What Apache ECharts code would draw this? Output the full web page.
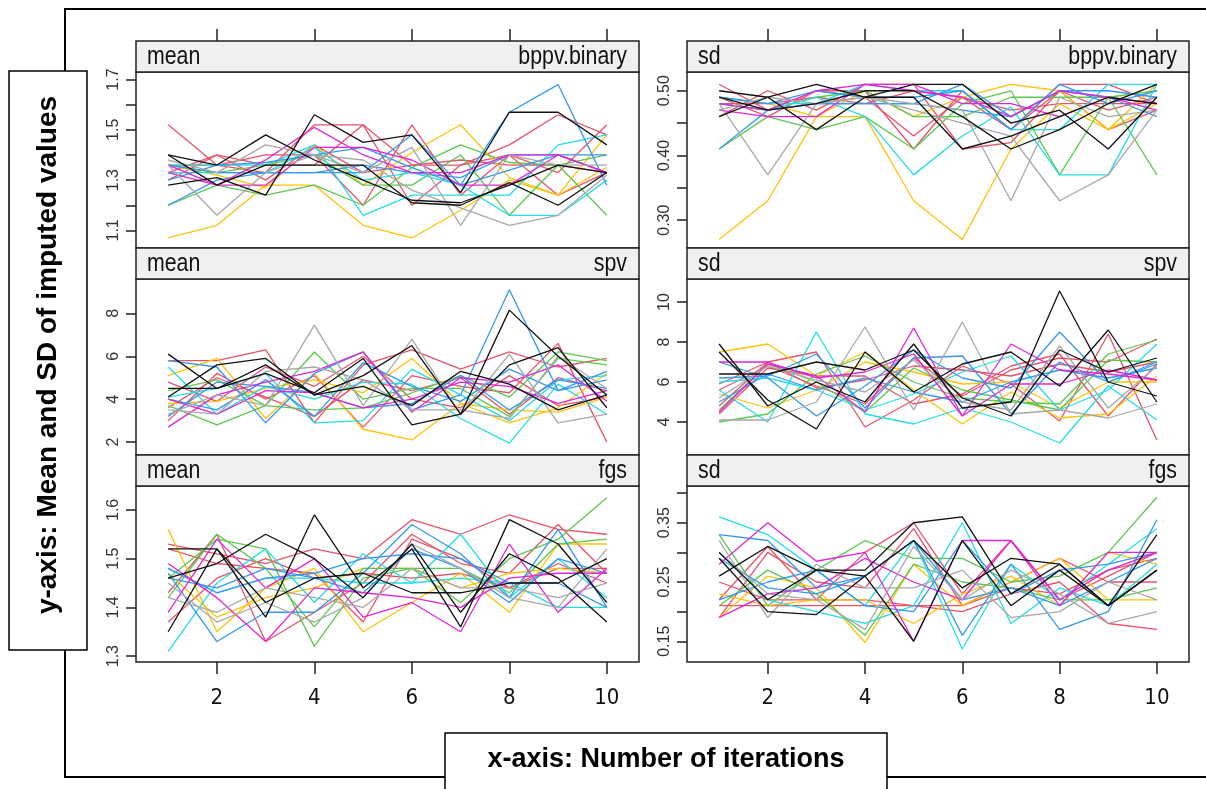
<!DOCTYPE html>
<html>
<head>
<meta charset="utf-8">
<script src="https://cdn.jsdelivr.net/npm/echarts@6/dist/echarts.min.js"></script>
<style>
  html, body { margin: 0; padding: 0; background: #fff; }
  #chart { width: 1206px; height: 789px; }
</style>
</head>
<body>
<div id="chart"></div>
<script>
// iterations on the x axis
const iterations = [1, 2, 3, 4, 5, 6, 7, 8, 9, 10];
const xTicks = [2, 4, 6, 8, 10];

// one colour per imputation stream (red x4, gold x2, green x2, cyan x2, blue x3, magenta x2, gray x2, black x3)
const lineColors = [
  '#e8536a', '#e8536a', '#e8536a', '#e8536a',
  '#ffc20a', '#ffc20a',
  '#5cc84e', '#5cc84e',
  '#22dde8', '#22dde8',
  '#3399f0', '#3399f0', '#3399f0',
  '#e026d6', '#e026d6',
  '#a8a8a8', '#a8a8a8',
  '#111111', '#111111', '#111111'
];

const meanBppv = [
  [1.52, 1.36, 1.33, 1.52, 1.52, 1.36, 1.36, 1.44, 1.56, 1.48],
  [1.30, 1.40, 1.36, 1.36, 1.52, 1.20, 1.36, 1.40, 1.24, 1.33],
  [1.36, 1.36, 1.40, 1.40, 1.20, 1.52, 1.24, 1.40, 1.33, 1.52],
  [1.33, 1.40, 1.30, 1.44, 1.33, 1.36, 1.38, 1.36, 1.36, 1.33],
  [1.07, 1.12, 1.28, 1.28, 1.12, 1.07, 1.18, 1.30, 1.24, 1.35],
  [1.36, 1.32, 1.27, 1.44, 1.28, 1.41, 1.52, 1.31, 1.24, 1.48],
  [1.20, 1.28, 1.24, 1.28, 1.20, 1.35, 1.44, 1.37, 1.36, 1.16],
  [1.36, 1.33, 1.36, 1.40, 1.28, 1.28, 1.40, 1.16, 1.36, 1.40],
  [1.36, 1.36, 1.36, 1.44, 1.16, 1.24, 1.24, 1.24, 1.44, 1.48],
  [1.33, 1.33, 1.33, 1.43, 1.30, 1.33, 1.28, 1.16, 1.16, 1.30],
  [1.20, 1.30, 1.33, 1.33, 1.33, 1.48, 1.28, 1.57, 1.68, 1.28],
  [1.36, 1.33, 1.33, 1.33, 1.36, 1.33, 1.31, 1.40, 1.40, 1.33],
  [1.30, 1.36, 1.37, 1.40, 1.43, 1.35, 1.28, 1.34, 1.40, 1.40],
  [1.33, 1.28, 1.38, 1.51, 1.40, 1.33, 1.33, 1.40, 1.40, 1.33],
  [1.36, 1.28, 1.28, 1.43, 1.43, 1.38, 1.28, 1.28, 1.40, 1.33],
  [1.36, 1.16, 1.33, 1.40, 1.33, 1.43, 1.12, 1.40, 1.36, 1.36],
  [1.38, 1.33, 1.44, 1.40, 1.38, 1.26, 1.19, 1.12, 1.16, 1.32],
  [1.40, 1.36, 1.48, 1.38, 1.30, 1.22, 1.21, 1.28, 1.36, 1.33],
  [1.40, 1.28, 1.36, 1.36, 1.36, 1.21, 1.20, 1.29, 1.20, 1.33],
  [1.28, 1.31, 1.24, 1.56, 1.45, 1.48, 1.25, 1.57, 1.57, 1.44]
];

const sdBppv = [
  [0.51, 0.47, 0.50, 0.50, 0.41, 0.50, 0.44, 0.51, 0.51, 0.48],
  [0.46, 0.50, 0.47, 0.51, 0.51, 0.41, 0.42, 0.50, 0.44, 0.47],
  [0.49, 0.46, 0.50, 0.49, 0.43, 0.49, 0.47, 0.48, 0.48, 0.48],
  [0.48, 0.48, 0.49, 0.48, 0.50, 0.49, 0.44, 0.50, 0.47, 0.49],
  [0.27, 0.33, 0.46, 0.46, 0.33, 0.27, 0.41, 0.48, 0.44, 0.51],
  [0.49, 0.48, 0.46, 0.50, 0.46, 0.49, 0.51, 0.50, 0.44, 0.48],
  [0.41, 0.46, 0.44, 0.46, 0.41, 0.48, 0.50, 0.37, 0.49, 0.37],
  [0.48, 0.47, 0.49, 0.50, 0.46, 0.46, 0.49, 0.49, 0.49, 0.50],
  [0.48, 0.47, 0.49, 0.46, 0.37, 0.43, 0.475, 0.37, 0.37, 0.51],
  [0.49, 0.48, 0.48, 0.51, 0.50, 0.50, 0.44, 0.44, 0.51, 0.51],
  [0.41, 0.47, 0.48, 0.48, 0.48, 0.51, 0.46, 0.50, 0.49, 0.46],
  [0.49, 0.48, 0.50, 0.49, 0.49, 0.50, 0.44, 0.51, 0.48, 0.50],
  [0.48, 0.47, 0.48, 0.48, 0.48, 0.47, 0.46, 0.50, 0.50, 0.49],
  [0.47, 0.46, 0.46, 0.51, 0.51, 0.48, 0.48, 0.46, 0.49, 0.47],
  [0.48, 0.47, 0.50, 0.51, 0.50, 0.49, 0.46, 0.50, 0.49, 0.48],
  [0.48, 0.37, 0.48, 0.49, 0.48, 0.47, 0.33, 0.49, 0.46, 0.47],
  [0.47, 0.49, 0.48, 0.49, 0.47, 0.45, 0.43, 0.33, 0.37, 0.47],
  [0.50, 0.49, 0.51, 0.49, 0.49, 0.41, 0.43, 0.46, 0.49, 0.48],
  [0.46, 0.49, 0.44, 0.49, 0.51, 0.51, 0.45, 0.47, 0.41, 0.49],
  [0.49, 0.47, 0.48, 0.50, 0.50, 0.46, 0.41, 0.44, 0.48, 0.51]
];

const meanSpv = [
  [5.8, 5.8, 6.3, 2.9, 5.6, 6.3, 5.4, 6.2, 5.5, 5.9],
  [3.0, 5.2, 4.0, 5.1, 2.7, 5.1, 4.6, 4.3, 6.6, 2.0],
  [4.8, 3.9, 5.5, 4.6, 6.0, 4.0, 3.6, 5.1, 3.7, 4.1],
  [3.6, 5.0, 4.1, 3.2, 4.9, 4.4, 5.0, 3.3, 5.0, 4.4],
  [5.1, 5.9, 3.1, 5.2, 2.6, 2.1, 3.8, 2.9, 3.6, 5.2],
  [3.8, 3.9, 4.5, 4.9, 4.3, 5.9, 3.8, 3.5, 3.4, 4.1],
  [3.7, 2.8, 3.7, 6.2, 4.0, 4.5, 4.5, 3.2, 5.9, 5.6],
  [4.4, 4.9, 3.7, 3.5, 3.6, 4.3, 5.1, 4.1, 6.2, 5.8],
  [5.5, 3.3, 4.6, 4.0, 4.8, 4.7, 3.1, 1.95, 4.7, 3.3],
  [4.1, 4.5, 5.2, 2.9, 3.0, 5.4, 4.2, 3.0, 4.9, 5.1],
  [5.8, 5.5, 2.9, 5.2, 6.2, 3.5, 4.2, 9.1, 4.4, 5.3],
  [4.0, 3.5, 4.9, 3.2, 5.7, 4.6, 3.9, 5.4, 4.4, 4.9],
  [3.2, 4.8, 4.6, 4.3, 3.6, 3.8, 5.1, 3.5, 4.9, 4.5],
  [2.7, 4.2, 4.8, 5.3, 6.2, 3.4, 5.0, 4.8, 5.6, 3.9],
  [4.0, 3.3, 4.4, 4.3, 3.6, 4.0, 4.8, 4.6, 3.8, 4.4],
  [3.3, 4.2, 3.7, 7.45, 3.7, 6.8, 3.3, 6.1, 2.9, 3.3],
  [3.5, 3.3, 5.3, 5.5, 4.9, 3.5, 3.5, 3.1, 6.0, 4.5],
  [4.1, 5.6, 5.9, 4.2, 5.1, 6.5, 3.3, 8.15, 6.0, 4.2],
  [6.1, 4.5, 5.2, 4.3, 5.9, 2.8, 3.3, 5.6, 6.4, 3.6],
  [4.5, 4.5, 5.6, 4.2, 4.6, 3.7, 5.3, 4.7, 3.5, 4.2]
];

const sdSpv = [
  [4.8, 7.0, 7.5, 3.75, 5.1, 6.8, 5.9, 4.05, 8.4, 3.1],
  [5.6, 6.8, 5.8, 4.9, 7.2, 5.3, 6.6, 7.2, 7.0, 8.15],
  [4.4, 6.7, 6.3, 6.3, 4.9, 5.4, 6.8, 7.4, 4.3, 6.9],
  [5.9, 7.0, 5.7, 6.1, 6.8, 6.6, 6.3, 6.9, 6.5, 7.0],
  [7.5, 7.9, 6.3, 7.5, 5.6, 3.9, 5.5, 4.2, 4.4, 6.3],
  [5.4, 4.7, 5.6, 7.0, 6.5, 5.9, 6.0, 4.7, 6.0, 6.0],
  [4.0, 4.4, 6.4, 7.3, 6.0, 5.2, 5.0, 4.9, 7.4, 8.1],
  [4.6, 6.9, 6.0, 4.5, 6.7, 5.6, 5.1, 4.6, 7.1, 7.0],
  [5.6, 4.0, 8.5, 4.4, 3.9, 4.7, 4.0, 2.95, 5.8, 4.1],
  [6.0, 6.2, 5.6, 4.6, 5.4, 6.5, 7.3, 4.6, 5.6, 7.9],
  [7.0, 6.2, 4.3, 5.8, 7.6, 6.2, 5.7, 8.5, 6.0, 6.9],
  [6.2, 6.3, 7.4, 4.7, 7.2, 7.3, 4.4, 7.0, 6.0, 7.0],
  [5.0, 6.4, 5.6, 6.2, 5.5, 5.0, 6.0, 6.6, 6.2, 6.7],
  [4.5, 6.9, 6.3, 4.5, 8.7, 4.3, 7.9, 6.6, 6.4, 6.1],
  [7.0, 7.0, 6.2, 6.5, 7.4, 4.3, 5.9, 5.9, 6.6, 6.1],
  [4.1, 4.1, 5.0, 8.75, 4.6, 9.0, 4.4, 4.6, 4.2, 4.9],
  [5.2, 6.8, 6.1, 5.5, 7.1, 5.0, 4.6, 7.8, 4.7, 6.8],
  [7.9, 4.8, 6.0, 5.0, 7.9, 4.7, 5.0, 10.55, 6.0, 5.3],
  [7.5, 5.1, 3.65, 7.5, 5.5, 6.9, 7.5, 5.8, 8.6, 5.0],
  [6.4, 6.4, 7.0, 6.6, 7.6, 5.2, 4.3, 7.6, 6.5, 7.2]
];

const meanFgs = [
  [1.53, 1.51, 1.49, 1.52, 1.50, 1.58, 1.55, 1.59, 1.56, 1.55],
  [1.43, 1.55, 1.33, 1.39, 1.45, 1.55, 1.49, 1.47, 1.57, 1.47],
  [1.52, 1.49, 1.48, 1.47, 1.37, 1.54, 1.50, 1.44, 1.49, 1.45],
  [1.37, 1.46, 1.50, 1.46, 1.47, 1.46, 1.47, 1.44, 1.48, 1.48],
  [1.56, 1.35, 1.44, 1.48, 1.35, 1.41, 1.47, 1.39, 1.53, 1.53],
  [1.47, 1.38, 1.42, 1.44, 1.48, 1.48, 1.44, 1.47, 1.48, 1.47],
  [1.46, 1.54, 1.52, 1.32, 1.46, 1.48, 1.41, 1.50, 1.54, 1.625],
  [1.42, 1.55, 1.48, 1.36, 1.48, 1.48, 1.48, 1.43, 1.53, 1.54],
  [1.31, 1.45, 1.52, 1.41, 1.51, 1.45, 1.55, 1.42, 1.50, 1.42],
  [1.48, 1.43, 1.46, 1.46, 1.45, 1.45, 1.46, 1.45, 1.40, 1.40],
  [1.47, 1.33, 1.39, 1.39, 1.47, 1.57, 1.51, 1.42, 1.56, 1.40],
  [1.48, 1.43, 1.46, 1.47, 1.50, 1.51, 1.50, 1.45, 1.45, 1.40],
  [1.46, 1.44, 1.48, 1.46, 1.43, 1.52, 1.48, 1.41, 1.50, 1.47],
  [1.39, 1.54, 1.44, 1.50, 1.38, 1.41, 1.35, 1.53, 1.39, 1.48],
  [1.49, 1.42, 1.33, 1.44, 1.43, 1.42, 1.40, 1.46, 1.47, 1.47],
  [1.45, 1.37, 1.41, 1.37, 1.42, 1.53, 1.48, 1.42, 1.40, 1.52],
  [1.42, 1.39, 1.44, 1.42, 1.40, 1.48, 1.44, 1.44, 1.42, 1.45],
  [1.35, 1.52, 1.38, 1.59, 1.44, 1.52, 1.36, 1.58, 1.53, 1.41],
  [1.46, 1.49, 1.55, 1.50, 1.42, 1.53, 1.39, 1.51, 1.46, 1.37],
  [1.52, 1.52, 1.41, 1.46, 1.47, 1.43, 1.43, 1.45, 1.45, 1.50]
];

const sdFgs = [
  [0.25, 0.22, 0.22, 0.22, 0.21, 0.20, 0.23, 0.25, 0.18, 0.17],
  [0.22, 0.31, 0.22, 0.30, 0.35, 0.23, 0.32, 0.22, 0.26, 0.30],
  [0.19, 0.30, 0.25, 0.24, 0.34, 0.21, 0.25, 0.29, 0.25, 0.25],
  [0.21, 0.21, 0.21, 0.21, 0.21, 0.21, 0.24, 0.23, 0.27, 0.29],
  [0.19, 0.26, 0.24, 0.148, 0.28, 0.21, 0.25, 0.29, 0.22, 0.22],
  [0.23, 0.21, 0.22, 0.22, 0.18, 0.23, 0.26, 0.21, 0.30, 0.28],
  [0.33, 0.21, 0.27, 0.32, 0.29, 0.29, 0.25, 0.26, 0.30, 0.393],
  [0.21, 0.27, 0.23, 0.16, 0.28, 0.25, 0.24, 0.22, 0.22, 0.24],
  [0.36, 0.33, 0.27, 0.21, 0.32, 0.137, 0.28, 0.22, 0.28, 0.34],
  [0.30, 0.22, 0.20, 0.18, 0.21, 0.35, 0.18, 0.24, 0.21, 0.28],
  [0.33, 0.32, 0.24, 0.26, 0.32, 0.16, 0.28, 0.17, 0.20, 0.355],
  [0.22, 0.25, 0.27, 0.21, 0.20, 0.32, 0.23, 0.27, 0.28, 0.30],
  [0.29, 0.24, 0.23, 0.26, 0.32, 0.22, 0.24, 0.21, 0.25, 0.29],
  [0.28, 0.35, 0.285, 0.30, 0.15, 0.32, 0.32, 0.21, 0.30, 0.30],
  [0.19, 0.23, 0.24, 0.29, 0.25, 0.22, 0.32, 0.22, 0.27, 0.30],
  [0.32, 0.19, 0.28, 0.24, 0.24, 0.27, 0.19, 0.20, 0.25, 0.22],
  [0.30, 0.23, 0.22, 0.17, 0.31, 0.22, 0.27, 0.23, 0.18, 0.20],
  [0.30, 0.22, 0.27, 0.26, 0.15, 0.32, 0.21, 0.27, 0.21, 0.33],
  [0.26, 0.31, 0.27, 0.27, 0.35, 0.36, 0.23, 0.28, 0.21, 0.27],
  [0.29, 0.20, 0.195, 0.26, 0.32, 0.24, 0.29, 0.28, 0.21, 0.27]
];

// panel order: row by row, left = mean, right = sd
const panels = [
  { stat: 'mean', variable: 'bppv.binary', data: meanBppv, min: 1.03, max: 1.73,
    ticks: [1.1, 1.2, 1.3, 1.4, 1.5, 1.6, 1.7], labels: [1.1, 1.3, 1.5, 1.7], digits: 1 },
  { stat: 'sd', variable: 'bppv.binary', data: sdBppv, min: 0.257, max: 0.529,
    ticks: [0.30, 0.35, 0.40, 0.45, 0.50], labels: [0.30, 0.40, 0.50], digits: 2 },
  { stat: 'mean', variable: 'spv', data: meanSpv, min: 1.4, max: 9.6,
    ticks: [2, 4, 6, 8], labels: [2, 4, 6, 8], digits: 0 },
  { stat: 'sd', variable: 'spv', data: sdSpv, min: 2.35, max: 11.15,
    ticks: [4, 6, 8, 10], labels: [4, 6, 8, 10], digits: 0 },
  { stat: 'mean', variable: 'fgs', data: meanFgs, min: 1.288, max: 1.649,
    ticks: [1.3, 1.4, 1.5, 1.6], labels: [1.3, 1.4, 1.5, 1.6], digits: 1 },
  { stat: 'sd', variable: 'fgs', data: sdFgs, min: 0.115, max: 0.412,
    ticks: [0.15, 0.20, 0.25, 0.30, 0.35, 0.40], labels: [0.15, 0.25, 0.35], digits: 2 }
];

const colLeft = [136, 687];
const colWidth = [503, 502];
const stripTop = [41, 248, 455];
const stripH = 31;
const plotH = 176;
const ink = '#222';
const condensed = '"DejaVu Sans Condensed", "Liberation Sans", sans-serif';
const regular = '"Liberation Sans", Arial, sans-serif';

const grids = [], xAxes = [], yAxes = [], series = [], graphics = [];

panels.forEach((p, i) => {
  const col = i % 2;
  const row = Math.floor(i / 2);
  grids.push({
    left: colLeft[col], top: stripTop[row] + stripH, width: colWidth[col], height: plotH,
    show: true, borderColor: ink, borderWidth: 1.5, backgroundColor: '#fff'
  });
  xAxes.push({
    type: 'value', gridIndex: i, min: 0.34, max: 10.66,
    position: row === 0 ? 'top' : 'bottom',
    offset: row === 0 ? stripH : 0,
    axisLine: { show: false },
    splitLine: { show: false },
    axisTick: {
      show: row !== 1, length: 12, customValues: xTicks,
      lineStyle: { color: ink, width: 1.5 }
    },
    axisLabel: {
      show: row === 2, customValues: xTicks, margin: 25,
      fontFamily: condensed, fontSize: 22, color: '#111'
    }
  });
  yAxes.push({
    type: 'value', gridIndex: i, min: p.min, max: p.max, position: 'left',
    axisLine: { show: false },
    splitLine: { show: false },
    axisTick: { length: 10, customValues: p.ticks, lineStyle: { color: ink, width: 1.5 } },
    axisLabel: {
      customValues: p.labels, rotate: 90, margin: 14,
      fontFamily: regular, fontSize: 16, color: '#333',
      formatter: v => Number(v).toFixed(p.digits)
    }
  });
  p.data.forEach((vals, j) => {
    series.push({
      type: 'line', xAxisIndex: i, yAxisIndex: i,
      data: iterations.map((x, k) => [x, vals[k]]),
      showSymbol: false, symbol: 'none', silent: true,
      lineStyle: { width: 1.3, color: lineColors[j] },
      itemStyle: { color: lineColors[j] }
    });
  });

  // lattice strip above each panel (Arial Narrow look via horizontal squeeze)
  const sx = colLeft[col], sy = stripTop[row];
  graphics.push({
    type: 'rect', z: 10,
    shape: { x: sx, y: sy, width: colWidth[col], height: stripH },
    style: { fill: '#f0f0f0', stroke: ink, lineWidth: 1.5 }
  });
  graphics.push({
    type: 'text', z: 11, x: sx + 11, y: sy + 16, scaleX: 0.82,
    style: { text: p.stat, font: '26px ' + regular, fill: '#111', align: 'left', verticalAlign: 'middle' }
  });
  graphics.push({
    type: 'text', z: 11, x: sx + colWidth[col] - 12, y: sy + 16, scaleX: 0.82,
    style: { text: p.variable, font: '26px ' + regular, fill: '#111', align: 'right', verticalAlign: 'middle' }
  });
});

// outer frame and the two axis title boxes
graphics.push(
  { type: 'polyline', z: 1, shape: { points: [[1206, 9], [65, 9], [65, 777], [1206, 777]] },
    style: { stroke: '#000', lineWidth: 2, fill: null } },
  { type: 'rect', z: 5, shape: { x: 9, y: 71, width: 78, height: 579 },
    style: { fill: '#fff', stroke: '#000', lineWidth: 1.5 } },
  { type: 'text', z: 6, x: 48, y: 355, rotation: Math.PI / 2,
    style: { text: 'y-axis: Mean and SD of imputed values', font: 'bold 28px ' + regular,
      fill: '#000', align: 'center', verticalAlign: 'middle' } },
  { type: 'rect', z: 5, shape: { x: 445, y: 733, width: 442, height: 70 },
    style: { fill: '#fff', stroke: '#000', lineWidth: 1.5 } },
  { type: 'text', z: 6, x: 666, y: 760,
    style: { text: 'x-axis: Number of iterations', font: 'bold 27px ' + regular,
      fill: '#000', align: 'center', verticalAlign: 'middle' } }
);

const chart = echarts.init(document.getElementById('chart'), null, { renderer: 'canvas' });
chart.setOption({
  animation: false,
  backgroundColor: '#fff',
  grid: grids,
  xAxis: xAxes,
  yAxis: yAxes,
  series: series,
  graphic: graphics
});
</script>
</body>
</html>
